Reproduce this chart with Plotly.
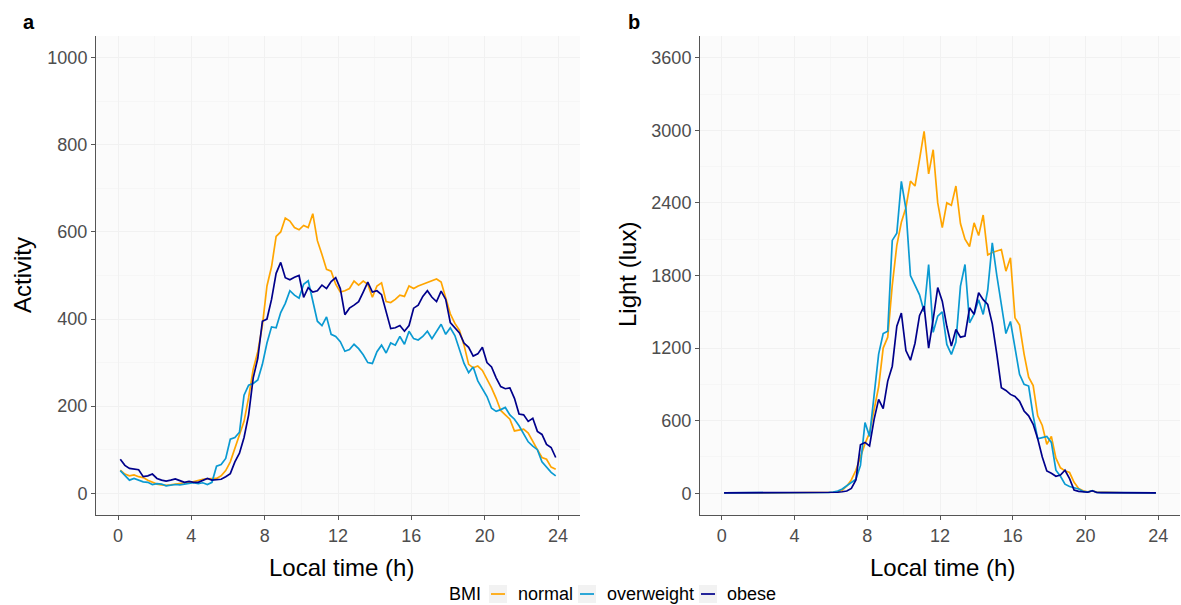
import numpy as np
import plotly.graph_objects as go
from plotly.subplots import make_subplots

# One value every 15 minutes, centred in each bin
hours = np.arange(0.125, 24, 0.25)

groups = ["normal", "overweight", "obese"]
colors = {"normal": "#FFA500", "overweight": "#0A9AD2", "obese": "#00008B"}

# Mean activity counts by BMI group
activity_normal = [
    53, 44, 40, 42, 38, 36, 30, 25,
    21, 19, 18, 19, 21, 23, 24, 24,
    27, 29, 32, 33, 33, 34, 40, 52,
    72, 104, 135, 165, 220, 285, 325, 385,
    476, 520, 590, 600, 632, 625, 610, 605,
    615, 610, 642, 580, 548, 514, 510, 480,
    462, 465, 470, 487, 478, 487, 480, 450,
    476, 483, 440, 438, 445, 455, 452, 476,
    470, 476, 480, 484, 487, 492, 485, 450,
    412, 390, 374, 340, 296, 288, 292, 282,
    262, 242, 218, 190, 180, 170, 143, 145,
    147, 138, 118, 100, 82, 78, 60, 55,
]
activity_overweight = [
    52, 40, 30, 34, 30, 26, 25, 20,
    22, 21, 17, 19, 20, 19, 21, 22,
    24, 22, 24, 20, 25, 62, 66, 80,
    124, 128, 140, 225, 248, 252, 260, 296,
    345, 382, 380, 415, 436, 465, 455, 448,
    480, 488, 445, 395, 385, 405, 365, 360,
    348, 326, 330, 342, 332, 318, 300, 298,
    325, 340, 322, 345, 340, 360, 342, 372,
    355, 352, 360, 372, 355, 370, 388, 365,
    380, 362, 330, 298, 277, 290, 258, 240,
    222, 195, 188, 192, 197, 180, 170, 155,
    138, 118, 108, 100, 72, 60, 48, 40,
]
activity_obese = [
    78, 64, 57, 56, 54, 38, 40, 44,
    34, 30, 28, 30, 33, 29, 25, 27,
    25, 25, 29, 34, 30, 31, 32, 38,
    45, 72, 92, 128, 180, 265, 310, 395,
    400, 445, 505, 530, 495, 490, 496, 500,
    450, 472, 462, 465, 478, 470, 486, 495,
    470, 410, 425, 432, 440, 462, 485, 462,
    465, 456, 420, 378, 380, 385, 372, 385,
    425, 432, 452, 465, 450, 440, 464, 445,
    392, 380, 368, 345, 335, 315, 320, 335,
    300, 290, 265, 245, 240, 242, 218, 182,
    180, 165, 172, 142, 135, 112, 105, 82,
]

# Mean light exposure (lux) by BMI group
light_normal = [
    4, 3, 3, 3, 2, 2, 2, 2,
    2, 2, 2, 2, 2, 2, 2, 2,
    2, 2, 2, 3, 3, 3, 4, 5,
    8, 12, 25, 60, 110, 190, 300, 410,
    500, 680, 880, 1200, 1290, 1720, 2050, 2240,
    2360, 2580, 2540, 2760, 2991, 2640, 2840, 2400,
    2195, 2400, 2380, 2540, 2230, 2100, 2040, 2235,
    2130, 2300, 1970, 1990, 2000, 2015, 1836, 1946,
    1450, 1390, 1150, 960, 890, 640, 560, 405,
    470, 290, 210, 185, 171, 90, 40, 20,
    12, 20, 10, 8, 6, 5, 5, 4,
    4, 4, 3, 3, 3, 3, 3, 3,
]
light_overweight = [
    3, 3, 3, 3, 3, 3, 3, 3,
    3, 3, 3, 3, 3, 3, 3, 3,
    3, 3, 3, 3, 4, 4, 5, 6,
    10, 18, 35, 62, 90, 116, 230, 584,
    470, 800, 1150, 1320, 1340, 2090, 2150, 2579,
    2350, 1800, 1720, 1640, 1500, 1891, 1330, 1464,
    1500, 1230, 1148, 1250, 1712, 1891, 1409, 1480,
    1600, 1478, 1680, 2070, 1800, 1560, 1320, 1420,
    1200, 983, 900, 886, 640, 450, 460, 470,
    420, 190, 140, 75, 55, 45, 35, 15,
    10, 22, 6, 5, 5, 4, 4, 4,
    3, 3, 3, 3, 3, 3, 3, 3,
]
light_obese = [
    3, 3, 3, 3, 3, 3, 3, 3,
    3, 3, 3, 3, 3, 3, 3, 3,
    3, 3, 3, 3, 3, 3, 4, 4,
    6, 8, 12, 18, 40, 110, 400, 420,
    391, 611, 776, 700, 927, 1050, 1381, 1490,
    1180, 1100, 1240, 1470, 1547, 1200, 1437, 1700,
    1588, 1380, 1216, 1354, 1290, 1300, 1533, 1480,
    1657, 1600, 1560, 1400, 1150, 873, 850, 817,
    800, 760, 680, 640, 570, 450, 300, 184,
    165, 140, 150, 190, 120, 27, 15, 10,
    8, 20, 6, 5, 5, 4, 4, 4,
    3, 3, 3, 3, 3, 3, 3, 3,
]

activity = {"normal": activity_normal, "overweight": activity_overweight, "obese": activity_obese}
light = {"normal": light_normal, "overweight": light_overweight, "obese": light_obese}

x_ticks = [0, 4, 8, 12, 16, 20, 24]
activity_ticks = [0, 200, 400, 600, 800, 1000]
light_ticks = [0, 600, 1200, 1800, 2400, 3000, 3600]

W, H = 1181, 605
FONT = "Liberation Sans, Arial, sans-serif"

fig = make_subplots(rows=1, cols=2)

for g in groups:
    fig.add_trace(go.Scatter(x=hours, y=activity[g], mode="lines", name=g,
                             line=dict(color=colors[g], width=1.7),
                             showlegend=False), row=1, col=1)
    fig.add_trace(go.Scatter(x=hours, y=light[g], mode="lines", name=g,
                             line=dict(color=colors[g], width=1.7),
                             showlegend=False), row=1, col=2)

def px_x(p):
    return p / W

def px_y(p):
    return 1 - p / H

y_dom = [px_y(515), px_y(36)]

axis_common = dict(
    showline=True, linecolor="#555555", linewidth=1,
    ticks="outside", ticklen=4, tickcolor="#555555", tickwidth=1,
    tickfont=dict(family=FONT, size=18, color="#4D4D4D"),
    showgrid=True, gridcolor="#F1F1F1", gridwidth=1,
    zeroline=False,
    minor=dict(showgrid=True, gridcolor="#F6F6F6", gridwidth=1),
)

fig.update_xaxes(**axis_common, range=[-1.2, 25.2], tickvals=x_ticks)
fig.update_xaxes(domain=[px_x(96), px_x(580)], row=1, col=1)
fig.update_xaxes(domain=[px_x(700), px_x(1180)], row=1, col=2)
fig.update_yaxes(**axis_common)
fig.update_yaxes(domain=y_dom, range=[-50, 1050], tickvals=activity_ticks, row=1, col=1)
fig.update_yaxes(domain=y_dom, range=[-180, 3780], tickvals=light_ticks, row=1, col=2)
fig.update_xaxes(minor=dict(tickvals=[2, 6, 10, 14, 18, 22], ticks=""))
fig.update_yaxes(minor=dict(tickvals=[100, 300, 500, 700, 900], ticks=""), row=1, col=1)
fig.update_yaxes(minor=dict(tickvals=[300, 900, 1500, 2100, 2700, 3300], ticks=""), row=1, col=2)

annotations = [
    dict(text="<b>a</b>", x=px_x(29), y=px_y(22), font=dict(size=20)),
    dict(text="<b>b</b>", x=px_x(634), y=px_y(22), font=dict(size=20)),
    dict(text="Activity", x=px_x(22), y=px_y(275), textangle=-90, font=dict(size=24)),
    dict(text="Light (lux)", x=px_x(627), y=px_y(275), textangle=-90, font=dict(size=24)),
    dict(text="Local time (h)", x=px_x(341), y=px_y(567), font=dict(size=24)),
    dict(text="Local time (h)", x=px_x(942), y=px_y(567), font=dict(size=24)),
    dict(text="BMI", x=px_x(465), y=px_y(594), font=dict(size=18)),
]
for a in annotations:
    a["font"] = dict(family=FONT, color="#000000", **a["font"])
    a.update(xref="paper", yref="paper", showarrow=False, xanchor="center", yanchor="middle")

# Legend: grey key boxes with a short line sample, then the group name
shapes = []
legend_keys = [("normal", 489, 516), ("overweight", 578, 605), ("obese", 699, 725)]
for g, kx, tx in legend_keys:
    shapes.append(dict(type="rect", xref="paper", yref="paper",
                       x0=px_x(kx), x1=px_x(kx + 18), y0=px_y(603), y1=px_y(585),
                       fillcolor="#F2F2F2", line=dict(width=0), layer="below"))
    shapes.append(dict(type="line", xref="paper", yref="paper",
                       x0=px_x(kx + 2), x1=px_x(kx + 16), y0=px_y(594), y1=px_y(594),
                       line=dict(color=colors[g], width=1.7)))
    annotations.append(dict(text=g, xref="paper", yref="paper", x=px_x(tx), y=px_y(594),
                            xanchor="left", yanchor="middle", showarrow=False,
                            font=dict(family=FONT, size=18, color="#000000")))

fig.update_layout(
    width=W, height=H,
    margin=dict(l=0, r=0, t=0, b=0),
    paper_bgcolor="white",
    plot_bgcolor="#FBFBFB",
    font=dict(family=FONT),
    showlegend=False,
    annotations=annotations,
    shapes=shapes,
)

fig.write_html("out.html")
